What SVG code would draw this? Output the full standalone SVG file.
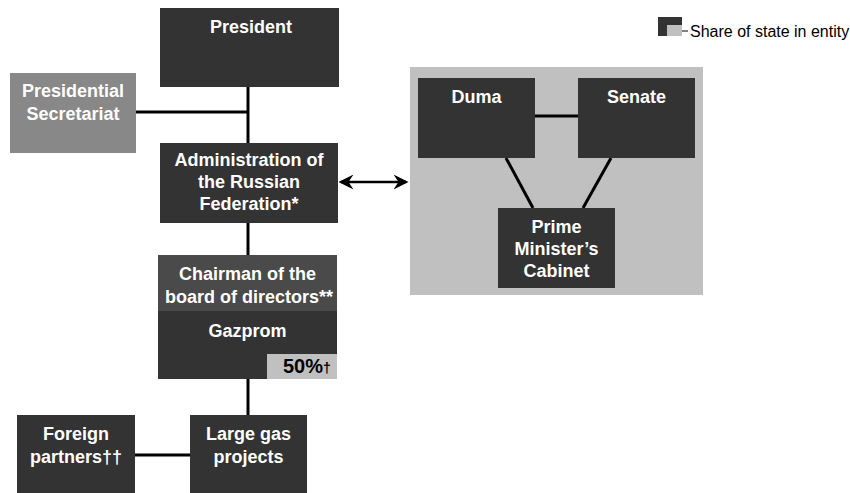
<svg xmlns="http://www.w3.org/2000/svg" width="850" height="493" viewBox="0 0 850 493">
  <defs>
    <style>
      .box { fill: #333333; }
      .sec { fill: #888888; }
      .chair { fill: #4a4a4a; }
      .panel { fill: #c0c0c0; }
      .lbl { font-family: "Liberation Sans", Arial, sans-serif; font-weight: bold; font-size: 18px; fill: #ffffff; text-anchor: middle; }
      .conn { stroke: #000000; stroke-width: 3; fill: none; }
      .legend { font-family: "Liberation Sans", Arial, sans-serif; font-size: 16px; fill: #000000; }
    </style>
    <marker id="head" viewBox="0 0 12 12" refX="10" refY="6" markerWidth="6" markerHeight="6" orient="auto-start-reverse" markerUnits="strokeWidth">
      <path d="M0,0 L12,6 L0,12 L4,6 Z" fill="#000000"/>
    </marker>
  </defs>

  <rect x="0" y="0" width="850" height="493" fill="#ffffff"/>

  <!-- legend -->
  <g id="legend">
    <rect x="658" y="17" width="24" height="19" class="box"/>
    <rect x="667" y="25" width="15" height="11" fill="#c0c0c0"/>
    <line x1="682" y1="31" x2="688" y2="31" stroke="#000" stroke-width="1"/>
    <text x="690" y="37" class="legend">Share of state in entity</text>
  </g>

  <!-- government panel background -->
  <rect id="panel" x="410" y="67" width="293" height="228" class="panel"/>

  <!-- connectors -->
  <g id="connectors">
    <line x1="248" y1="87" x2="248" y2="143" class="conn"/>
    <line x1="136" y1="112" x2="248" y2="112" class="conn"/>
    <line x1="248" y1="223" x2="248" y2="255" class="conn"/>
    <line x1="248" y1="379" x2="248" y2="415" class="conn"/>
    <line x1="135" y1="455" x2="190" y2="455" class="conn"/>
    <line x1="535" y1="116" x2="578" y2="116" class="conn"/>
    <line x1="506" y1="158" x2="533" y2="208" class="conn"/>
    <line x1="611" y1="158" x2="583" y2="208" class="conn"/>
    <line x1="341" y1="182" x2="406" y2="182" stroke="#000" stroke-width="2.5" marker-start="url(#head)" marker-end="url(#head)"/>
  </g>

  <g id="president">
    <rect x="160" y="8" width="179" height="79" class="box"/>
    <text x="251" y="33" class="lbl">President</text>
  </g>

  <g id="secretariat">
    <rect x="10" y="73" width="126" height="80" class="sec"/>
    <text x="73" y="97" class="lbl">Presidential</text>
    <text x="73" y="120" class="lbl">Secretariat</text>
  </g>

  <g id="administration">
    <rect x="160" y="143" width="178" height="80" class="box"/>
    <text x="249" y="166" class="lbl">Administration of</text>
    <text x="249" y="188" class="lbl">the Russian</text>
    <text x="249" y="210" class="lbl">Federation*</text>
  </g>

  <g id="duma">
    <rect x="418" y="78" width="117" height="80" class="box"/>
    <text x="476.5" y="103" class="lbl">Duma</text>
  </g>

  <g id="senate">
    <rect x="578" y="78" width="117" height="80" class="box"/>
    <text x="636.5" y="103" class="lbl">Senate</text>
  </g>

  <g id="cabinet">
    <rect x="498" y="208" width="117" height="80" class="box"/>
    <text x="556.5" y="233" class="lbl">Prime</text>
    <text x="556.5" y="255" class="lbl">Minister’s</text>
    <text x="556.5" y="277" class="lbl">Cabinet</text>
  </g>

  <g id="gazprom">
    <rect x="158" y="255" width="179" height="124" class="box"/>
    <rect x="158" y="255" width="179" height="56" class="chair"/>
    <text x="247.5" y="280" class="lbl">Chairman of the</text>
    <text x="249" y="303" class="lbl">board of directors**</text>
    <text x="247.5" y="337" class="lbl">Gazprom</text>
    <rect x="267" y="354" width="70" height="25" class="panel"/>
    <text x="283" y="373" font-family="Liberation Sans, Arial, sans-serif" font-weight="bold" font-size="20" fill="#000">50%<tspan font-size="14">†</tspan></text>
  </g>

  <g id="gas-projects">
    <rect x="190" y="415" width="117" height="78" class="box"/>
    <text x="248.5" y="440" class="lbl">Large gas</text>
    <text x="248.5" y="463" class="lbl">projects</text>
  </g>

  <g id="foreign-partners">
    <rect x="17" y="415" width="118" height="78" class="box"/>
    <text x="76" y="440" class="lbl">Foreign</text>
    <text x="76" y="463" class="lbl">partners††</text>
  </g>
</svg>
